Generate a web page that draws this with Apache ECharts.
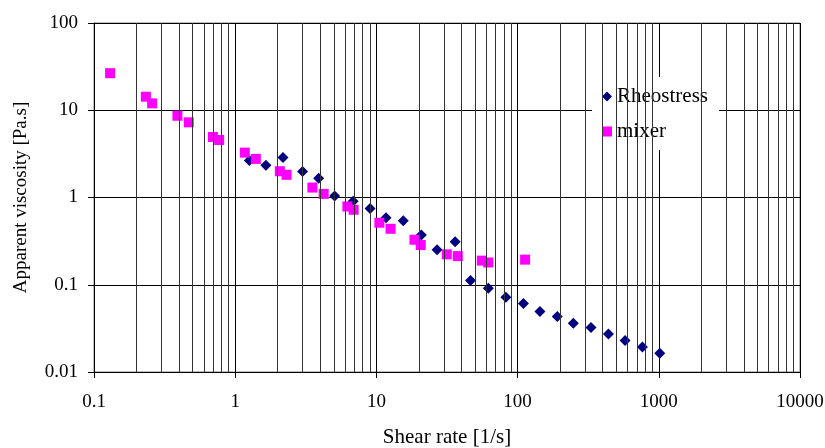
<!DOCTYPE html>
<html>
<head>
<meta charset="utf-8">
<script src="https://cdn.jsdelivr.net/npm/echarts@6/dist/echarts.min.js"></script>
<style>
  html, body { margin: 0; padding: 0; background: #fff; }
  #chart { width: 825px; height: 448px; }
</style>
</head>
<body>
<div id="chart"></div>
<script>
// Rheostress: [shear rate, viscosity]
var rheoRate = [1.26, 1.65, 2.18, 3.0, 3.9, 5.06, 6.84, 9.02, 11.7, 15.5, 20.8, 26.9, 36.1, 46.4, 62, 82.6, 110, 144, 191, 248, 331, 440, 577, 766, 1016];
var rheoVisc = [2.65, 2.34, 2.87, 1.98, 1.66, 1.04, 0.908, 0.748, 0.586, 0.542, 0.371, 0.252, 0.312, 0.112, 0.091, 0.072, 0.061, 0.0494, 0.0434, 0.0363, 0.0324, 0.0272, 0.023, 0.0193, 0.0164];

// mixer
var mixerRate = [0.13, 0.233, 0.258, 0.39, 0.469, 0.695, 0.77, 1.17, 1.40, 2.07, 2.31, 3.52, 4.23, 6.23, 6.9, 10.5, 12.6, 18.6, 20.6, 31.5, 37.7, 55.8, 62, 113];
var mixerVisc = [26.6, 14.3, 12.0, 8.65, 7.27, 4.94, 4.56, 3.27, 2.77, 2.0, 1.82, 1.30, 1.10, 0.789, 0.723, 0.514, 0.438, 0.328, 0.285, 0.223, 0.213, 0.189, 0.18, 0.194];

// minor vertical grid positions (2..9 of each decade)
var decades = [0.1, 1, 10, 100, 1000];
var minorX = [];
decades.forEach(function(d) {
	for (var k = 2; k <= 9; k++) minorX.push(+(d * k).toPrecision(3));
});

function pairs(xs, ys) {
	var out = [];
	for (var i = 0; i < xs.length; i++) out.push([xs[i], ys[i]]);
	return out;
}

var font = 'Liberation Serif, Times New Roman, serif';
var myChart = echarts.init(document.getElementById('chart'));

var option = {
	backgroundColor: '#fff',
	animation: false,
	grid: {
		left: 94,
		right: 25,
		top: 23,
		bottom: 76,
		outerBoundsMode: 'none',
		containLabel: false,
		show: true,
		borderColor: '#808080',
		borderWidth: 1
	},
	legend: {
		orient: 'vertical',
		left: 592,
		top: 77,
		backgroundColor: '#fff',
		padding: [9, 11, 8, 10],
		itemGap: 14,
		itemWidth: 10,
		itemHeight: 10,
		textStyle: { fontFamily: font, fontSize: 21, color: '#000', lineHeight: 20 },
		data: ['Rheostress', 'mixer']
	},
	xAxis: {
		type: 'log',
		logBase: 10,
		min: 0.1,
		max: 10000,
		name: 'Shear rate [1/s]',
		nameLocation: 'middle',
		nameGap: 55,
		nameTextStyle: { fontFamily: font, fontSize: 21, color: '#000' },
		axisLine: { lineStyle: { color: '#000', width: 1 } },
		axisTick: { show: true, length: 6, lineStyle: { color: '#000' } },
		axisLabel: {
			fontFamily: font, fontSize: 19, color: '#000', margin: 21,
			formatter: function(v) { return String(+v.toPrecision(6)); }
		},
		splitLine: { show: true, lineStyle: { color: '#000', width: 1 } }
	},
	yAxis: {
		type: 'log',
		logBase: 10,
		min: 0.01,
		max: 100,
		name: 'Apparent viscosity [Pa.s]',
		nameLocation: 'middle',
		nameGap: 63,
		nameTextStyle: { fontFamily: font, fontSize: 19, color: '#000' },
		axisLine: { lineStyle: { color: '#000', width: 1 } },
		axisTick: { show: true, length: 6, lineStyle: { color: '#000' } },
		axisLabel: {
			fontFamily: font, fontSize: 19, color: '#000', margin: 16,
			formatter: function(v) { return String(+v.toPrecision(6)); }
		},
		splitLine: { show: true, lineStyle: { color: '#000', width: 1 } }
	},
	series: [
		{
			name: 'minor',
			type: 'scatter',
			data: [],
			silent: true,
			markLine: {
				silent: true,
				symbol: ['none', 'none'],
				label: { show: false },
				lineStyle: { color: '#333', width: 1, type: 'solid', opacity: 1 },
				data: minorX.map(function(v) { return { xAxis: v }; })
			}
		},
		{
			name: 'Rheostress',
			type: 'scatter',
			symbol: 'diamond',
			symbolSize: 11,
			itemStyle: { color: '#000080', opacity: 1 },
			data: pairs(rheoRate, rheoVisc)
		},
		{
			name: 'mixer',
			type: 'scatter',
			symbol: 'rect',
			symbolSize: 10,
			itemStyle: { color: '#ff00ff', opacity: 1 },
			data: pairs(mixerRate, mixerVisc)
		}
	]
};

myChart.setOption(option);
</script>
</body>
</html>
